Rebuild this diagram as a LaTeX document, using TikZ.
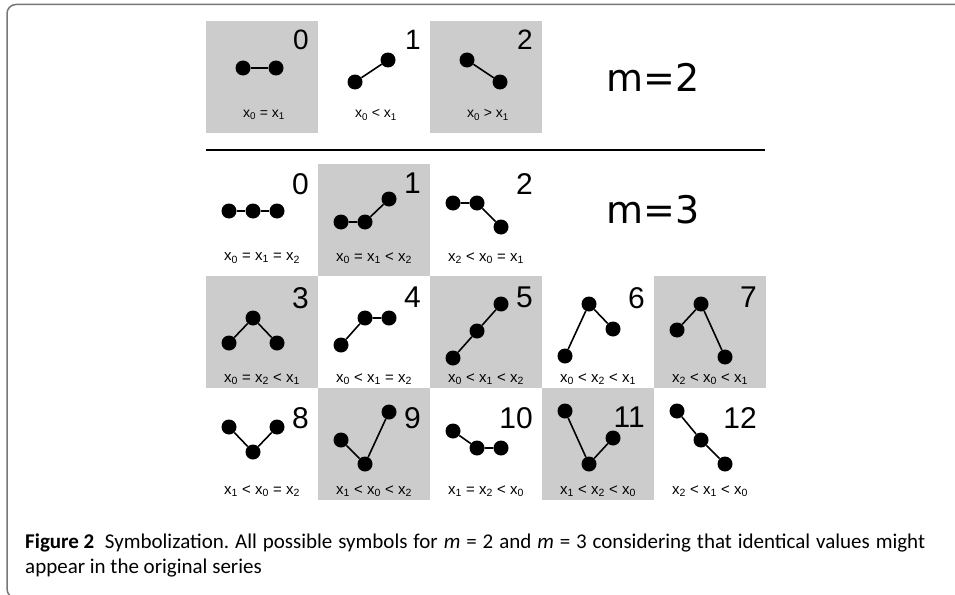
\documentclass[tikz,border=0pt]{standalone}
\usepackage{fontspec}
\setmainfont{Liberation Sans}
\newfontfamily\capfont{Carlito}
\newfontfamily\mfont{DejaVu Sans}
\definecolor{cellgray}{HTML}{CCCCCC}
\definecolor{framegray}{HTML}{777777}
\newcommand{\xv}[1]{x\textsubscript{#1}}

\begin{document}
\begin{tikzpicture}[x=1pt,y=-1pt,
    dot/.style={circle,fill=black,inner sep=0pt,minimum size=15pt},
    link/.style={line width=1.6pt},
    num/.style={anchor=north east,inner sep=0pt,font=\fontsize{30}{30}\selectfont},
    lab/.style={inner sep=0pt,font=\fontsize{15}{15}\selectfont},
    mlab/.style={inner sep=0pt,font=\mfont\fontsize{38}{38}\selectfont},
    captext/.style={anchor=base west,inner sep=0pt,font=\capfont\fontsize{21}{21}\selectfont\frenchspacing}]
    \useasboundingbox (0,0) rectangle (955,594);

    % frame round the figure
    \draw[framegray,line width=1.5pt,rounded corners=9pt]
        (960,4.5) -- (7,4.5) -- (7,598) -- (40,598);

    % m=2
    \foreach \x/\col/\n/\ya/\yb/\lab in {206/cellgray/0/47/47/{\xv0 = \xv1},
        318/white/1/61/39/{\xv0 < \xv1},430/cellgray/2/39/61/{\xv0 > \xv1}}
    {
        \begin{scope}[shift={(\x,21)}]
            \fill[\col] (0,0) rectangle (112,112);
            \node[dot] (a\n-0) at (37,\ya) {};
            \node[dot] (a\n-1) at (70,\yb) {};
            \draw[link] (a\n-0) -- (a\n-1);
            \node[num,font=\fontsize{28}{28}\selectfont] (na\n) at (103,9) {\n};
            \node[lab,font=\fontsize{14}{14}\selectfont] (la\n) at (58,94) {\lab};
        \end{scope}
    }
    \node[mlab] (m2) at (653,77) {m=2};

    \draw[line width=1.4pt] (206,150) -- (765,150);

    % m=3
    \foreach \x/\y/\col/\n/\ya/\yb/\yc/\ny/\ly/\lab in {
        206/164/white/0/47/47/47/9/94/{\xv0 = \xv1 = \xv2},
        318/164/cellgray/1/58/58/35/9/94/{\xv0 = \xv1 < \xv2},
        430/164/white/2/39/39/63/9/94/{\xv2 < \xv0 = \xv1},
        206/276/cellgray/3/67/42/67/11/103/{\xv0 = \xv2 < \xv1},
        318/276/white/4/69/42/42/11/103/{\xv0 < \xv1 = \xv2},
        430/276/cellgray/5/82/55/28/11/103/{\xv0 < \xv1 < \xv2},
        542/276/white/6/80/28/53/11/103/{\xv0 < \xv2 < \xv1},
        654/276/cellgray/7/54/28/81/11/103/{\xv2 < \xv0 < \xv1},
        206/388/white/8/39/64/39/19/103/{\xv1 < \xv0 = \xv2},
        318/388/cellgray/9/52/76/24/19/103/{\xv1 < \xv0 < \xv2},
        430/388/white/10/43/60/60/19/103/{\xv1 = \xv2 < \xv0},
        542/388/cellgray/11/23/76/50/19/103/{\xv1 < \xv2 < \xv0},
        654/388/white/12/23/52/76/19/103/{\xv2 < \xv1 < \xv0}}
    {
        \begin{scope}[shift={(\x,\y)}]
            \fill[\col] (0,0) rectangle (112,112);
            \node[dot] (b\n-0) at (23,\ya) {};
            \node[dot] (b\n-1) at (47,\yb) {};
            \node[dot] (b\n-2) at (71,\yc) {};
            \draw[link] (b\n-0) -- (b\n-1) -- (b\n-2);
            \node[num] (nb\n) at (103,\ny) {\n};
            \node[lab] (lb\n) at (56,\ly) {\lab};
        \end{scope}
    }
    \node[mlab] (m3) at (653,210) {m=3};

    % caption
    \node[captext] (cap1) at (25,548)
        {\makebox[900pt][s]{\mbox{\textbf{Figure 2}}\hspace*{0.5em}Symbolization. All possible symbols for \textit{m} = 2 and \textit{m} = 3 considering that identical values might}};
    \node[captext] (cap2) at (25,573) {appear in the original series};
\end{tikzpicture}
\end{document}
